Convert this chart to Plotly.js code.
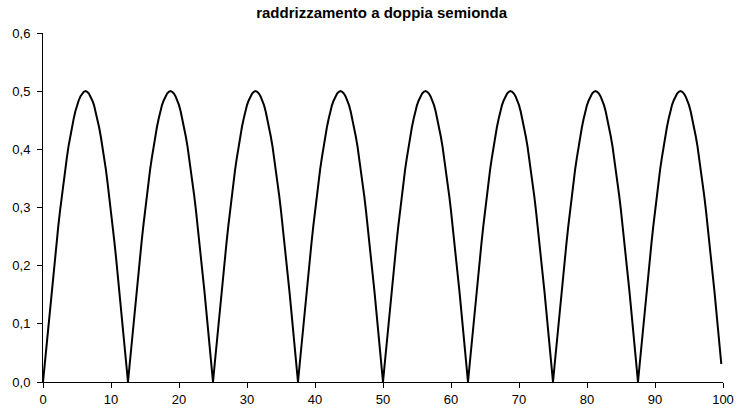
<!DOCTYPE html>
<html>
<head>
<meta charset="utf-8">
<script src="https://cdn.plot.ly/plotly-3.0.1.min.js"></script>
<style>html,body{margin:0;padding:0;background:#fff;}#chart{width:741px;height:414px;}</style>
</head>
<body>
<div id="chart"></div>
<script>
// sampling of the waveform along x
var xStart = 0;
var xStep = 0.25;
// full-wave rectified signal (8 half-periods)
var yValues = [
0,.031,.063,.094,.124,.155,.184,.213,.241,.268,.294,.319,.342,.365,.385,.405,.422,.438,.452,.465,.476,.484,.491,.496,.499,.5,.499,.496,.491,.484,.476,.465,.452,.438,.422,.405,.385,.365,.342,.319,.294,.268,.241,.213,.184,.155,.124,.094,.063,.031,
0,.031,.063,.094,.124,.155,.184,.213,.241,.268,.294,.319,.342,.365,.385,.405,.422,.438,.452,.465,.476,.484,.491,.496,.499,.5,.499,.496,.491,.484,.476,.465,.452,.438,.422,.405,.385,.365,.342,.319,.294,.268,.241,.213,.184,.155,.124,.094,.063,.031,
0,.031,.063,.094,.124,.155,.184,.213,.241,.268,.294,.319,.342,.365,.385,.405,.422,.438,.452,.465,.476,.484,.491,.496,.499,.5,.499,.496,.491,.484,.476,.465,.452,.438,.422,.405,.385,.365,.342,.319,.294,.268,.241,.213,.184,.155,.124,.094,.063,.031,
0,.031,.063,.094,.124,.155,.184,.213,.241,.268,.294,.319,.342,.365,.385,.405,.422,.438,.452,.465,.476,.484,.491,.496,.499,.5,.499,.496,.491,.484,.476,.465,.452,.438,.422,.405,.385,.365,.342,.319,.294,.268,.241,.213,.184,.155,.124,.094,.063,.031,
0,.031,.063,.094,.124,.155,.184,.213,.241,.268,.294,.319,.342,.365,.385,.405,.422,.438,.452,.465,.476,.484,.491,.496,.499,.5,.499,.496,.491,.484,.476,.465,.452,.438,.422,.405,.385,.365,.342,.319,.294,.268,.241,.213,.184,.155,.124,.094,.063,.031,
0,.031,.063,.094,.124,.155,.184,.213,.241,.268,.294,.319,.342,.365,.385,.405,.422,.438,.452,.465,.476,.484,.491,.496,.499,.5,.499,.496,.491,.484,.476,.465,.452,.438,.422,.405,.385,.365,.342,.319,.294,.268,.241,.213,.184,.155,.124,.094,.063,.031,
0,.031,.063,.094,.124,.155,.184,.213,.241,.268,.294,.319,.342,.365,.385,.405,.422,.438,.452,.465,.476,.484,.491,.496,.499,.5,.499,.496,.491,.484,.476,.465,.452,.438,.422,.405,.385,.365,.342,.319,.294,.268,.241,.213,.184,.155,.124,.094,.063,.031,
0,.031,.063,.094,.124,.155,.184,.213,.241,.268,.294,.319,.342,.365,.385,.405,.422,.438,.452,.465,.476,.484,.491,.496,.499,.5,.499,.496,.491,.484,.476,.465,.452,.438,.422,.405,.385,.365,.342,.319,.294,.268,.241,.213,.184,.155,.124,.094,.063,.031
];
var titleText = "raddrizzamento a doppia semionda";
var xTickVals = [0,10,20,30,40,50,60,70,80,90,100];
var yTickVals = [0,0.1,0.2,0.3,0.4,0.5,0.6];

var trace = {
  type: 'scatter',
  mode: 'lines',
  x0: xStart,
  dx: xStep,
  y: yValues,
  line: {color: '#000000', width: 2, shape: 'linear'},
  hoverinfo: 'skip'
};

var layout = {
  width: 741,
  height: 414,
  margin: {l: 43, r: 18, t: 33, b: 32, pad: 0},
  paper_bgcolor: '#ffffff',
  plot_bgcolor: '#ffffff',
  separators: ',.',
  showlegend: false,
  font: {family: 'Liberation Sans, Arial, sans-serif', size: 13, color: '#000000'},
  title: {
    text: '<b>' + titleText + '</b>',
    font: {family: 'Liberation Sans, Arial, sans-serif', size: 15, color: '#000000'},
    x: 0.515, xanchor: 'center', y: 0.968, yanchor: 'middle'
  },
  xaxis: {
    range: [0, 100],
    tickvals: xTickVals,
    ticks: 'outside', ticklen: 5, tickwidth: 1, tickcolor: '#000',
    showline: true, linecolor: '#000', linewidth: 1,
    showgrid: false, zeroline: false,
    tickfont: {size: 13, color: '#000'}
  },
  yaxis: {
    range: [0, 0.6],
    tickvals: yTickVals,
    tickformat: '.1f',
    ticks: 'outside', ticklen: 5, tickwidth: 1, tickcolor: '#000',
    ticklabelstandoff: 4,
    showline: true, linecolor: '#000', linewidth: 1,
    showgrid: false, zeroline: false,
    tickfont: {size: 13, color: '#000'}
  }
};

Plotly.newPlot('chart', [trace], layout, {displayModeBar: false, staticPlot: true});
</script>
</body>
</html>
